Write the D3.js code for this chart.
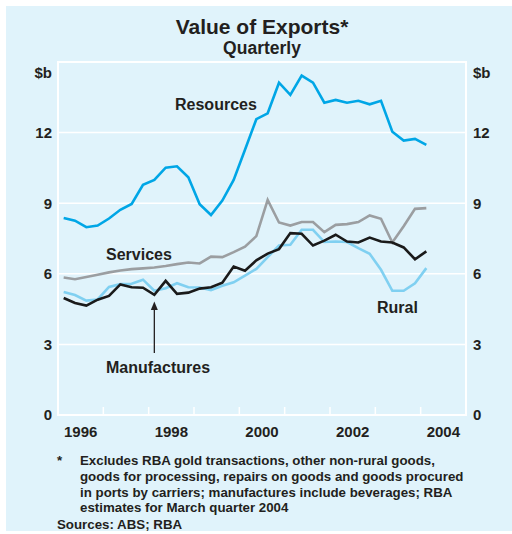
<!DOCTYPE html>
<html>
<head>
<meta charset="utf-8">
<script src="https://cdn.jsdelivr.net/npm/d3@7"></script>
<style>
  html, body { margin: 0; padding: 0; background: #ffffff; }
  svg { display: block; font-family: "Liberation Sans", Arial, sans-serif; }
</style>
</head>
<body>
<svg id="chart" width="512" height="534"></svg>
<script>
// ---- Data (A$ billion, quarterly, plotted at mid-quarter) ----
const quarters = [
  "1996Q1","1996Q2","1996Q3","1996Q4",
  "1997Q1","1997Q2","1997Q3","1997Q4",
  "1998Q1","1998Q2","1998Q3","1998Q4",
  "1999Q1","1999Q2","1999Q3","1999Q4",
  "2000Q1","2000Q2","2000Q3","2000Q4",
  "2001Q1","2001Q2","2001Q3","2001Q4",
  "2002Q1","2002Q2","2002Q3","2002Q4",
  "2003Q1","2003Q2","2003Q3","2003Q4",
  "2004Q1"
];
const resources = [8.37, 8.26, 7.98, 8.05, 8.35, 8.72, 8.97, 9.78, 9.99, 10.51, 10.57, 10.10,
  8.96, 8.50, 9.11, 9.99, 11.27, 12.57, 12.82, 14.12, 13.60, 14.42, 14.12, 13.27,
  13.39, 13.27, 13.35, 13.20, 13.35, 12.04, 11.66, 11.73, 11.48];
const services = [5.84, 5.77, 5.86, 5.96, 6.06, 6.14, 6.20, 6.23, 6.27, 6.33, 6.41, 6.48,
  6.44, 6.73, 6.71, 6.92, 7.15, 7.60, 9.14, 8.18, 8.05, 8.20, 8.20, 7.77,
  8.08, 8.11, 8.20, 8.48, 8.34, 7.33, 8.02, 8.76, 8.79];
const manufactures = [4.97, 4.76, 4.65, 4.90, 5.06, 5.55, 5.43, 5.41, 5.11, 5.70, 5.15, 5.20,
  5.37, 5.43, 5.62, 6.31, 6.13, 6.57, 6.86, 7.05, 7.73, 7.70, 7.20, 7.41,
  7.66, 7.37, 7.33, 7.54, 7.37, 7.33, 7.12, 6.62, 6.95];
const rural = [5.23, 5.10, 4.86, 4.91, 5.44, 5.56, 5.58, 5.75, 5.28, 5.39, 5.60, 5.43,
  5.42, 5.31, 5.49, 5.64, 5.92, 6.21, 6.71, 7.20, 7.23, 7.87, 7.87, 7.35,
  7.37, 7.35, 7.09, 6.85, 6.17, 5.28, 5.28, 5.60, 6.24];
const yTicks = [0, 3, 6, 9, 12];
const yearLabels = ["1996", "1998", "2000", "2002", "2004"];
const yearTicks = [1997, 1998, 1999, 2000, 2001, 2002, 2003, 2004];
const footnoteLines = [
  "Excludes RBA gold transactions, other non-rural goods,",
  "goods for processing, repairs on goods and goods procured",
  "in ports by carriers; manufactures include beverages; RBA",
  "estimates for March quarter 2004"
];

(function () {
// ---- Layout ----
const svg = d3.select("#chart");
const bg = "#e0f3fb";
const textCol = "#231f20";
const pL = 58, pR = 466, pT = 62, pB = 415;

svg.append("rect").attr("x", 6).attr("y", 6).attr("width", 506).attr("height", 525).attr("fill", bg);

const qTime = q => +q.slice(0, 4) + (+q.slice(5) - 1) / 4 + 0.125;
const x = d3.scaleLinear().domain([1996, 2005]).range([pL, pR]);
const y = d3.scaleLinear().domain([0, 15]).range([pB, pT]);

// gridlines
svg.append("g").selectAll("line").data(yTicks.filter(d => d > 0)).join("line")
  .attr("x1", pL).attr("x2", pR)
  .attr("y1", d => y(d)).attr("y2", d => y(d))
  .attr("stroke", "#ffffff").attr("stroke-width", 1.5);

// panel border
svg.append("rect").attr("x", pL).attr("y", pT).attr("width", pR - pL).attr("height", pB - pT)
  .attr("fill", "none").attr("stroke", "#ffffff").attr("stroke-width", 2);

// x ticks (inward)
svg.append("g").selectAll("line").data(yearTicks).join("line")
  .attr("x1", d => x(d)).attr("x2", d => x(d))
  .attr("y1", pB).attr("y2", pB - 8)
  .attr("stroke", "#ffffff").attr("stroke-width", 1.5);

// y labels left/right
const yl = svg.append("g").attr("font-size", 15).attr("font-weight", "bold").attr("fill", textCol);
yl.selectAll("text.l").data(yTicks).join("text").attr("class", "l")
  .attr("x", pL - 6).attr("y", d => y(d)).attr("dy", "0.36em").attr("text-anchor", "end").text(d => d);
yl.selectAll("text.r").data(yTicks).join("text").attr("class", "r")
  .attr("x", pR + 7).attr("y", d => y(d)).attr("dy", "0.36em").attr("text-anchor", "start").text(d => d);
yl.append("text").attr("x", pL - 6).attr("y", 78).attr("text-anchor", "end").text("$b");
yl.append("text").attr("x", pR + 7).attr("y", 78).attr("text-anchor", "start").text("$b");

// x labels
svg.append("g").attr("font-size", 15).attr("font-weight", "bold").attr("fill", textCol)
  .selectAll("text").data(yearLabels).join("text")
  .attr("x", d => x(+d + 0.5)).attr("y", 437).attr("text-anchor", "middle").text(d => d);

// lines
const line = d3.line().x((d, i) => x(qTime(quarters[i]))).y(d => y(d));
const series = [
  { values: services, color: "#9b9ea1" },
  { values: rural, color: "#80d0f1" },
  { values: manufactures, color: "#1a1a1a" },
  { values: resources, color: "#00a6e6" }
];
svg.append("g").selectAll("path").data(series).join("path")
  .attr("d", d => line(d.values)).attr("fill", "none")
  .attr("stroke", d => d.color).attr("stroke-width", 2.6)
  .attr("stroke-linejoin", "miter").attr("stroke-linecap", "butt");

// series labels
const lab = svg.append("g").attr("font-size", 16).attr("font-weight", "bold").attr("fill", textCol);
lab.append("text").attr("x", 175).attr("y", 110).text("Resources");
lab.append("text").attr("x", 106).attr("y", 260).text("Services");
lab.append("text").attr("x", 106).attr("y", 373).text("Manufactures");
lab.append("text").attr("x", 377).attr("y", 313).text("Rural");

// arrow for Manufactures
const ax = x(qTime("1998Q1"));
svg.append("line").attr("x1", ax).attr("x2", ax).attr("y1", 353).attr("y2", 306)
  .attr("stroke", textCol).attr("stroke-width", 1.3);
svg.append("path").attr("d", `M${ax},${301.5} L${ax - 3.5},${310} L${ax + 3.5},${310} Z`).attr("fill", textCol);

// titles
svg.append("text").attr("x", 262).attr("y", 34).attr("text-anchor", "middle")
  .attr("font-size", 21).attr("font-weight", "bold").attr("fill", textCol).text("Value of Exports*");
svg.append("text").attr("x", 262).attr("y", 54).attr("text-anchor", "middle")
  .attr("font-size", 17.5).attr("font-weight", "bold").attr("fill", textCol).text("Quarterly");

// footnotes
const fn = svg.append("g").attr("font-size", 13.3).attr("font-weight", "bold").attr("fill", textCol);
fn.append("text").attr("x", 57).attr("y", 465).text("*");
fn.selectAll("text.f").data(footnoteLines).join("text").attr("class", "f")
  .attr("x", 80).attr("y", (d, i) => 465 + i * 15.8).text(d => d);
fn.append("text").attr("x", 57).attr("y", 528.5).text("Sources: ABS; RBA");
})();
</script>
</body>
</html>
